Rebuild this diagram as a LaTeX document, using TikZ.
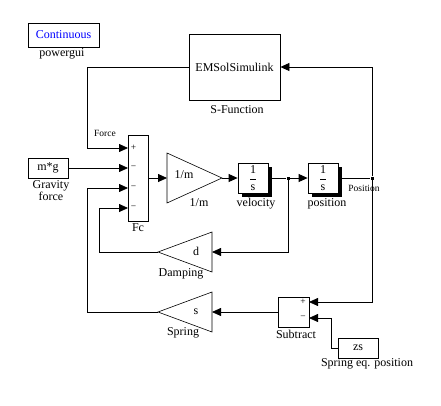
\documentclass[tikz,border=0pt]{standalone}
\usepackage{fontspec}
\setmainfont{Liberation Serif}
\usetikzlibrary{arrows.meta,positioning,calc,shadows}

\tikzset{
  blk/.style={draw, line width=0.8pt, fill=white, inner sep=0pt, font=\fontsize{12}{12}\selectfont},
  intg/.style={blk, minimum width=30pt, minimum height=30pt,
    drop shadow={shadow xshift=4pt, shadow yshift=-4pt, fill=black, opacity=1}},
  gainbox/.style={draw, line width=0.6pt},
  lbl/.style={inner sep=0pt, font=\fontsize{12}{12}\selectfont},
  small lbl/.style={inner sep=0pt, font=\fontsize{9.5}{10}\selectfont},
  sig/.style={line width=0.8pt, -{Triangle[length=9pt,width=8pt]}},
  wire/.style={line width=0.8pt},
  tap/.style={fill, minimum size=3pt, inner sep=0pt}
}
\newcommand{\intfrac}{$\displaystyle\frac{\textrm{1}}{\textrm{s}}$}

\begin{document}
\begin{tikzpicture}[x=1pt, y=-1pt]
    \useasboundingbox (0,0) rectangle (441,405);

    % powergui
    \node[blk, minimum width=71pt, minimum height=24pt, text=blue] (cont) at (63.5,35) {Continuous};
    \node[lbl] (cont-l) at (62,54) {powergui};

    % S-Function
    \node[blk, minimum width=91pt, minimum height=66pt] (sfun) at (234.5,67) {EMSolSimulink};
    \node[lbl] (sfun-l) at (237,110) {S-Function};

    % Summe Fc
    \node[blk, minimum width=20pt, minimum height=86pt] (fc) at (138,178) {};
    \foreach \s/\y [count=\i] in {+/148, −/168, −/188, −/208} {
        \coordinate (fc\i) at (128,\y);
        \node[small lbl] (fc-s\i) at (133.5,\y) {\s};
    }
    \node[lbl] (fc-l) at (138,228) {Fc};

    % Gravity
    \node[blk, minimum width=40pt, minimum height=20pt] (mg) at (48,168) {m*g};
    \node[lbl, align=center] (mg-l) at (51,191) {Gravity\\force};
    \draw[sig] (mg.east) -- (fc2);

    % Force
    \draw[sig] (sfun.west) -| (87,148) -- (fc1);
    \node[small lbl] (force-l) at (105,133) {Force};

    % Gain 1/m
    \coordinate (gm-in) at (167,178);
    \coordinate (gm-out) at (222,178);
    \draw[gainbox] (167,153) -- (gm-out) -- (167,203) -- cycle;
    \node[lbl] (gm-t) at (184,175) {1/m};
    \node[lbl] (gm-l) at (199,203) {1/m};
    \draw[sig] (fc.east) -- (gm-in);

    % Integratoren
    \node[intg] (vel) at (253,178) {\intfrac};
    \node[lbl] (vel-l) at (256,204) {velocity};
    \draw[sig] (gm-out) -- (vel.west);
    \node[tap] (vtap) at (288,178) {};
    \draw[wire] (vel.east) -- (vtap);

    \node[intg] (pos) at (323,178) {\intfrac};
    \node[lbl] (pos-l) at (327,204) {position};
    \draw[sig] (vtap) -- (pos.west);
    \node[tap] (ptap) at (372,178) {};
    \draw[wire] (pos.east) -- (ptap);
    \node[small lbl] (ptap-l) at (364,188) {Position};
    \draw[sig] (ptap) |- (sfun.east);

    % Damping
    \coordinate (dmp-in) at (212,252);
    \coordinate (dmp-out) at (158,252);
    \draw[gainbox] (212,232) -- (dmp-out) -- (212,272) -- cycle;
    \node[lbl] (dmp-t) at (196,251) {d};
    \node[lbl] (dmp-l) at (181,274) {Damping};
    \draw[sig] (vtap) |- (dmp-in);
    \draw[sig] (dmp-out) -| (99,208) -- (fc4);

    % Subtract
    \node[blk, minimum width=31pt, minimum height=30pt] (sub) at (293.5,312) {};
    \coordinate (sub1) at (309,302);
    \coordinate (sub2) at (309,318);
    \node[small lbl] (sub-s1) at (303,302) {+};
    \node[small lbl] (sub-s2) at (303,318) {−};
    \node[lbl] (sub-l) at (296,334) {Subtract};
    \draw[sig] (ptap) |- (sub1);

    % Spring eq. position
    \node[blk, minimum width=40pt, minimum height=20pt] (zs) at (358,348) {zs};
    \node[lbl] (zs-l) at (367,364) {Spring eq. position};
    \draw[sig] (zs.west) -- ++(-6,0) |- (sub2);

    % Spring
    \coordinate (spr-in) at (212,312);
    \coordinate (spr-out) at (158,312);
    \draw[gainbox] (212,292) -- (spr-out) -- (212,332) -- cycle;
    \node[lbl] (spr-t) at (196,312) {s};
    \node[lbl] (spr-l) at (183,333) {Spring};
    \draw[sig] (sub.west) -- (spr-in);
    \draw[sig] (spr-out) -| (87,188) -- (fc3);
\end{tikzpicture}
\end{document}
